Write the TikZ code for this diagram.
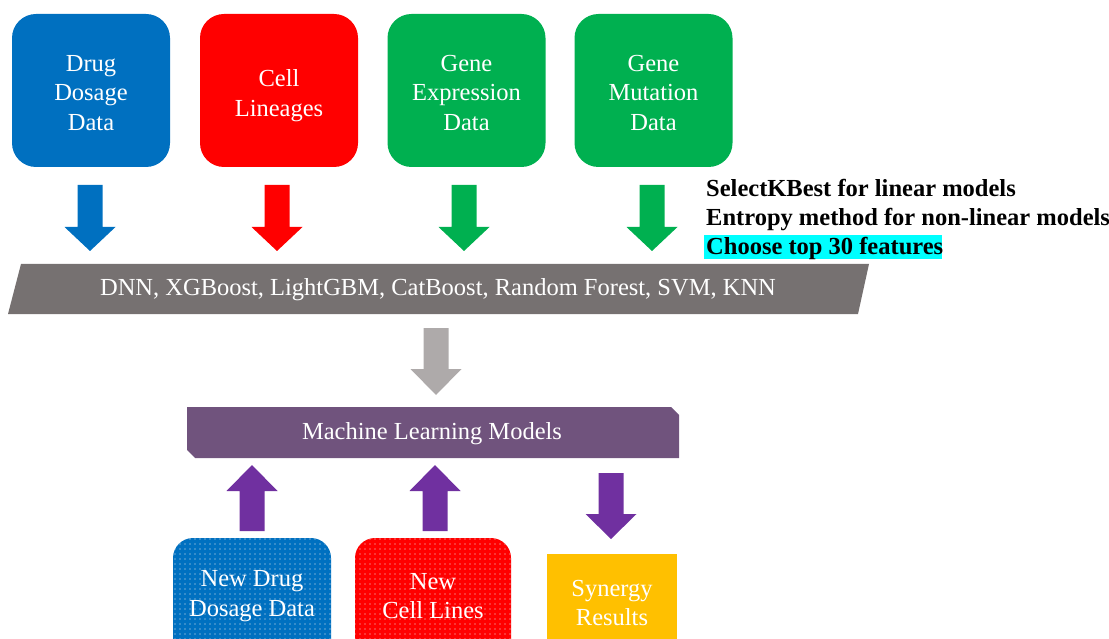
\documentclass[tikz,border=0pt]{standalone}
\usepackage{fontspec}
\setmainfont{Liberation Serif}
\usetikzlibrary{patterns.meta}

\definecolor{cblue}{HTML}{0070C0}
\definecolor{cred}{HTML}{FF0000}
\definecolor{cgreen}{HTML}{00B050}
\definecolor{cgray}{HTML}{767171}
\definecolor{clgray}{HTML}{AEAAAA}
\definecolor{cban}{HTML}{70537D}
\definecolor{cpurple}{HTML}{7030A0}
\definecolor{cyellow}{HTML}{FFC000}
\definecolor{ccyan}{HTML}{00FFFF}

% block arrow: centre x, tail y, head base y, tip y
\newcommand\blockarrow[5]{%
  \fill[#5] (#1-12.5,#2) -- (#1+12.5,#2) -- (#1+12.5,#3) -- (#1+25.5,#3)
    -- (#1,#4) -- (#1-25.5,#3) -- (#1-12.5,#3) -- cycle;}

\tikzset{
  txt/.style={font=\fontsize{24.5}{29.5}\selectfont, text=white, align=center, inner sep=0pt},
  srcbox/.style={rounded corners=24pt, minimum width=158pt, minimum height=153pt, inner sep=0pt},
  newbox/.style={rounded corners=20pt, postaction={pattern={Dots[radius=0.55pt, distance=5pt]}, pattern color=white!85!gray}},
  note/.style={font=\fontsize{24.5}{28}\selectfont\bfseries, anchor=base west, inner sep=0pt},
}

\begin{document}
\begin{tikzpicture}[x=1pt, y=-1pt]
\useasboundingbox (0,0) rectangle (1109,639);
\clip (0,0) rectangle (1109,639);

% input data sources
\node[srcbox, fill=cblue]  (drug) at (91,90.5) {};
\node[txt] at (91,93) {Drug\\Dosage\\Data};
\node[srcbox, fill=cred]   (cell) at (279,90.5) {};
\node[txt] at (279,95.5) {Cell\\Lineages};
\node[srcbox, fill=cgreen] (gexp) at (466.5,90.5) {};
\node[txt] at (466.5,93) {Gene\\Expression\\Data};
\node[srcbox, fill=cgreen] (gmut) at (653.5,90.5) {};
\node[txt] at (653.5,93) {Gene\\Mutation\\Data};

% arrows into the model list
\blockarrow{90}{185}{227}{251}{cblue}
\blockarrow{277}{185}{227}{251}{cred}
\blockarrow{464}{185}{227}{251}{cgreen}
\blockarrow{652}{185}{227}{251}{cgreen}

% feature selection notes
\fill[ccyan] (704,235) rectangle (942,259.5);
\node[note] (n1) at (706,197) {SelectKBest for linear models};
\node[note] (n2) at (706,226) {Entropy method for non-linear models};
\node[note] (n3) at (706,254.5) {Choose top 30 features};

% list of algorithms
\fill[cgray] (21,264) -- (869,264) -- (858,314) -- (8,314) -- cycle;
\node[txt] (algos) at (438,290) {DNN, XGBoost, LightGBM, CatBoost, Random Forest, SVM, KNN};

\blockarrow{436}{328}{369}{395}{clgray}

% model banner
\fill[cban] (187,407) -- (671,407) -- (679,415) -- (679,458) -- (195,458) -- (187,450) -- cycle;
\node[txt] (ml) at (432,433.5) {Machine Learning Models};

\blockarrow{252}{531}{491}{465}{cpurple}
\blockarrow{435}{531}{491}{465}{cpurple}
\blockarrow{611}{473}{514}{539}{cpurple}

% new inputs and results
\path[newbox, fill=cblue] (173,538) rectangle (331,680);
\node[txt] (newdrug) at (252,596) {New Drug\\Dosage Data};
\path[newbox, fill=cred] (355,538) rectangle (511,680);
\node[txt] (newcell) at (433,596) {New\\Cell Lines};
\fill[cyellow] (547,554) rectangle (677,680);
\node[txt] (syn) at (612,603) {Synergy\\Results};
\end{tikzpicture}
\end{document}
